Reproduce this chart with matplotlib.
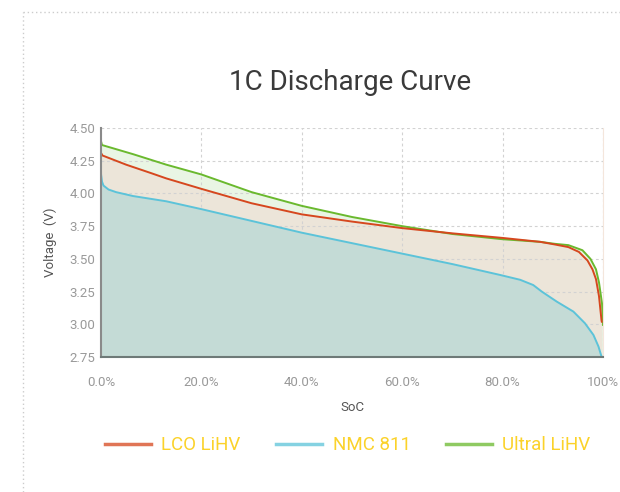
import matplotlib
matplotlib.use("Agg")
import matplotlib.pyplot as plt
from matplotlib.lines import Line2D

plt.rcParams['font.family'] = ['Roboto', 'DejaVu Sans']

# LCO LiHV
lco_soc = [0, 0.3, 5, 10, 13, 20, 30, 40, 50, 60, 70, 80, 87.5, 90.4, 93.1, 95.2, 96.9, 97.9, 98.6,
           99.2, 99.7, 99.75]
lco_v = [4.31, 4.29, 4.22, 4.155, 4.115, 4.035, 3.925, 3.84, 3.785, 3.735, 3.695, 3.66, 3.63, 3.61,
         3.59, 3.553, 3.488, 3.42, 3.345, 3.215, 3.03, 3.02]

# NMC 811
nmc_soc = [0, 0.2, 0.5, 1.5, 3, 6.4, 13, 20, 30, 40, 50, 60, 70, 79.5, 83.5, 86.1, 87.8, 90.8, 94.1,
           96.4, 98.1, 99.1, 99.7, 100]
nmc_v = [4.15, 4.09, 4.06, 4.03, 4.01, 3.98, 3.94, 3.88, 3.79, 3.70, 3.62, 3.54, 3.46, 3.377, 3.34,
         3.30, 3.25, 3.173, 3.097, 3.008, 2.918, 2.83, 2.753, 2.75]

# Ultral LiHV
ult_soc = [0, 0.2, 6.4, 13, 20, 30, 40, 50, 60, 70, 80, 87.5, 90.4, 93.1, 95.9, 97.5, 98.6, 99.2,
           99.8, 100]
ult_v = [4.40, 4.37, 4.30, 4.22, 4.145, 4.01, 3.905, 3.82, 3.75, 3.69, 3.65, 3.63, 3.615, 3.605,
         3.566, 3.50, 3.42, 3.32, 3.16, 2.995]

names = ["LCO LiHV", "NMC 811", "Ultral LiHV"]
line_colors = ["#d6471e", "#5cc3d9", "#6ab92e"]
fill_colors = ["#ece5d9", "#c4dbd6", "#e9f5e4"]

xticks = [0, 20, 40, 60, 80, 100]
xtick_labels = ["0.0%", "20.0%", "40.0%", "60.0%", "80.0%", "100%"]
yticks = [2.75, 3.00, 3.25, 3.50, 3.75, 4.00, 4.25, 4.50]

fig = plt.figure(figsize=(6.2, 4.92), dpi=100)
ax = fig.add_axes([0.1629, 0.2744, 0.8097, 0.4654])

# fills (back to front)
ax.fill_between(ult_soc, ult_v, 2.75, color=fill_colors[2], lw=0, zorder=1)
ax.fill_between(lco_soc, lco_v, 2.75, color=fill_colors[0], lw=0, zorder=2)
ax.fill_between(nmc_soc, nmc_v, 2.75, color=fill_colors[1], lw=0, zorder=3)

ax.plot(ult_soc, ult_v, color=line_colors[2], lw=1.4, zorder=5, solid_joinstyle="round")
ax.plot(lco_soc, lco_v, color=line_colors[0], lw=1.4, zorder=6, solid_joinstyle="round")
ax.plot(nmc_soc, nmc_v, color=line_colors[1], lw=1.4, zorder=7, solid_joinstyle="round")

ax.set_xlim(0, 100)
ax.set_ylim(2.75, 4.5)
ax.set_xticks(xticks)
ax.set_xticklabels(xtick_labels)
ax.set_yticks(yticks)
ax.set_yticklabels([f"{v:.2f}" for v in yticks])
ax.tick_params(axis='both', length=0, labelsize=9.5, labelcolor="#999999")
ax.tick_params(axis='x', pad=14)
ax.tick_params(axis='y', pad=4)

ax.grid(True, color="#d2d2d2", ls=(0, (2.5, 2.5)), lw=0.8, zorder=4)
ax.set_axisbelow(False)
ax.spines["top"].set_visible(False)
ax.spines["right"].set_color("#f4e6dc")
ax.spines["left"].set_color("#8a8a8a")
ax.spines["left"].set_linewidth(1.5)
ax.spines["bottom"].set_color("#6e7a78")
ax.spines["bottom"].set_linewidth(1.5)
for s in ax.spines.values():
    s.set_zorder(8)

ax.set_xlabel("SoC", fontsize=9.5, color="#555555", labelpad=8)
ax.set_ylabel("Voltage  (V)", fontsize=9.5, color="#555555", labelpad=9)

fig.text(350 / 620, 1 - 82 / 492, "1C Discharge Curve", ha="center", va="center",
         fontsize=20, color="#3a3a3a")

handles = [Line2D([], [], color=c, lw=2.5, alpha=0.75) for c in line_colors]
leg = fig.legend(handles, names, loc="center", bbox_to_anchor=(0.561, 1 - 445.5 / 492),
                 ncol=3, frameon=False, fontsize=13.5, handlelength=2.45, handletextpad=0.55,
                 columnspacing=1.9)
for t in leg.get_texts():
    t.set_color("#fbd22a")

# dotted card border
fig.add_artist(Line2D([23 / 620, 23 / 620], [0, 1 - 12 / 492], transform=fig.transFigure,
                      color="#cccccc", ls=(0, (1, 2)), lw=1))
fig.add_artist(Line2D([23 / 620, 1], [1 - 12 / 492, 1 - 12 / 492], transform=fig.transFigure,
                      color="#cccccc", ls=(0, (1, 2)), lw=1))

fig.savefig("out.png", dpi=100)
